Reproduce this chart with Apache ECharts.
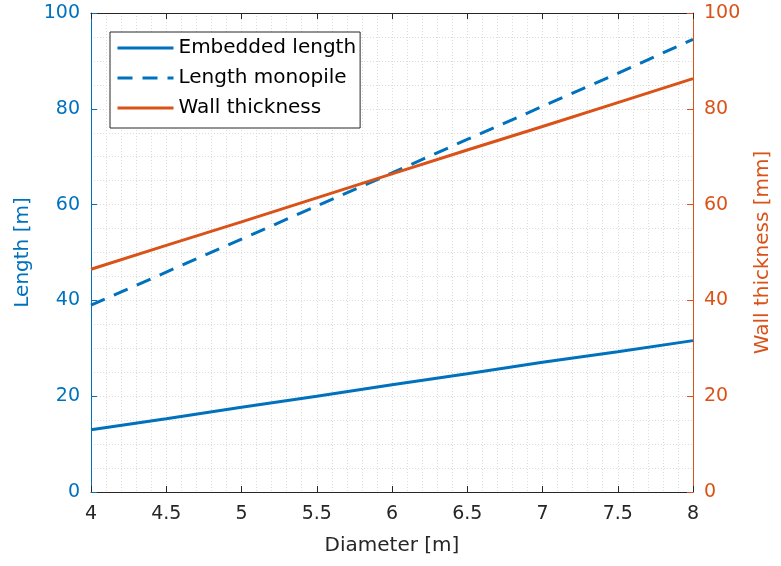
<!DOCTYPE html>
<html><head><meta charset="utf-8">
<script src="https://cdn.jsdelivr.net/npm/echarts@6/dist/echarts.min.js"></script>
<style>html,body{margin:0;padding:0;background:#fff}#c{width:781px;height:566px}</style>
</head><body><div id="c"></div>
<script>
const diameter = [4, 4.5, 5, 5.5, 6, 6.5, 7, 7.5, 8];
const embeddedLength = [13.0, 15.3, 17.7, 20.0, 22.4, 24.7, 27.1, 29.3, 31.6];
const lengthMonopile = [39.0, 45.9, 52.8, 59.7, 66.6, 73.6, 80.5, 87.4, 94.5];
const wallThickness = [46.5, 51.5, 56.4, 61.4, 66.4, 71.4, 76.3, 81.3, 86.3];

const BLUE = '#0072BD', ORANGE = '#D95319', DARK = '#262626';
const FONT = 'DejaVu Sans';
const pair = (xs, ys) => xs.map((x, i) => [x, ys[i]]);
const grid = {color: '#dcdcdc', type: [1, 2], width: 1};

const chart = echarts.init(document.getElementById('c'));
chart.setOption({
  animation: false,
  textStyle: {fontFamily: FONT},
  grid: {left: 91, right: 77, top: 13, bottom: 74, containLabel: false},
  legend: {
    left: 110, top: 32, orient: 'vertical',
    backgroundColor: '#fff', borderColor: '#262626', borderWidth: 1,
    padding: [6, 4, 10, 6], itemGap: 10, itemWidth: 56, itemHeight: 20,
    itemStyle: {opacity: 0},
    lineStyle: {width: 3},
    textStyle: {fontSize: 20, color: '#000', fontFamily: FONT},
    data: ['Embedded length', 'Length monopile', 'Wall thickness']
  },
  xAxis: [{
    type: 'value', min: 4, max: 8, interval: 0.5,
    name: 'Diameter [m]', nameLocation: 'middle', nameGap: 44,
    nameTextStyle: {fontSize: 20, color: DARK, fontFamily: FONT},
    axisLine: {onZero: false, lineStyle: {color: DARK, width: 1}},
    axisTick: {inside: true, length: 6, lineStyle: {color: DARK}},
    axisLabel: {fontSize: 19, color: DARK, margin: 13, fontFamily: FONT},
    minorTick: {show: false, splitNumber: 5},
    splitLine: {show: true, lineStyle: grid},
    minorSplitLine: {show: true, lineStyle: grid}
  }, {
    type: 'value', min: 4, max: 8, interval: 0.5, position: 'top',
    axisLine: {onZero: false, lineStyle: {color: DARK, width: 1}},
    axisTick: {inside: true, length: 6, lineStyle: {color: DARK}},
    axisLabel: {show: false}, splitLine: {show: false}
  }],
  yAxis: [{
    type: 'value', min: 0, max: 100, interval: 20, position: 'left',
    name: 'Length [m]', nameLocation: 'middle', nameGap: 56,
    nameTextStyle: {fontSize: 20, color: BLUE, fontFamily: FONT},
    axisLine: {show: true, onZero: false, lineStyle: {color: BLUE, width: 1}},
    axisTick: {show: true, inside: true, length: 6, lineStyle: {color: BLUE}},
    axisLabel: {fontSize: 19, color: BLUE, margin: 11, fontFamily: FONT},
    minorTick: {show: false, splitNumber: 4},
    splitLine: {show: true, lineStyle: grid},
    minorSplitLine: {show: true, lineStyle: grid}
  }, {
    type: 'value', min: 0, max: 100, interval: 20, position: 'right',
    name: 'Wall thickness [mm]', nameLocation: 'middle', nameGap: 60, nameRotate: 90,
    nameTextStyle: {fontSize: 20, color: ORANGE, fontFamily: FONT},
    axisLine: {show: true, onZero: false, lineStyle: {color: ORANGE, width: 1}},
    axisTick: {show: true, inside: true, length: 6, lineStyle: {color: ORANGE}},
    axisLabel: {fontSize: 19, color: ORANGE, margin: 11, fontFamily: FONT},
    splitLine: {show: false}
  }],
  series: [{
    name: 'Embedded length', type: 'line', yAxisIndex: 0, symbol: 'none',
    color: BLUE, lineStyle: {color: BLUE, width: 3},
    data: pair(diameter, embeddedLength)
  }, {
    name: 'Length monopile', type: 'line', yAxisIndex: 0, symbol: 'none',
    color: BLUE, lineStyle: {color: BLUE, width: 3, type: [15, 10]},
    data: pair(diameter, lengthMonopile)
  }, {
    name: 'Wall thickness', type: 'line', yAxisIndex: 1, symbol: 'none',
    color: ORANGE, lineStyle: {color: ORANGE, width: 3},
    data: pair(diameter, wallThickness)
  }]
});
</script></body></html>
